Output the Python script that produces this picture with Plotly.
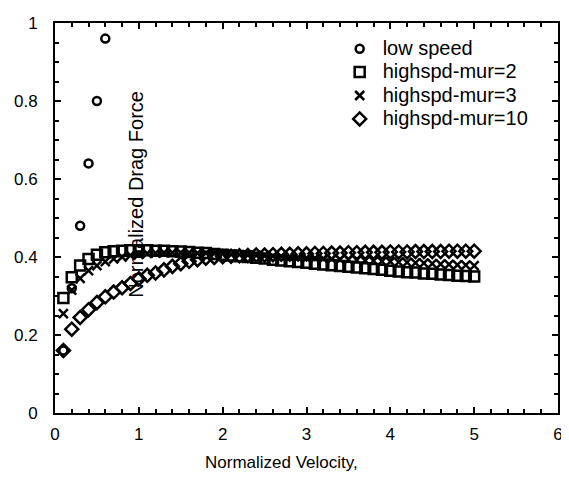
import plotly.graph_objects as go

# ---- data ----
low_x = [0.1, 0.2, 0.3, 0.4, 0.5, 0.6]
low_y = [0.16, 0.32, 0.48, 0.64, 0.80, 0.96]

hs_x = [round(0.1 * i, 1) for i in range(1, 51)]

mur2_y = [0.295, 0.348, 0.378, 0.395, 0.406, 0.412, 0.415, 0.416, 0.417, 0.417,
          0.417, 0.416, 0.416, 0.415, 0.414, 0.413, 0.411, 0.410, 0.408, 0.406,
          0.404, 0.402, 0.400, 0.398, 0.396, 0.393, 0.391, 0.389, 0.387, 0.385,
          0.383, 0.381, 0.379, 0.377, 0.375, 0.373, 0.371, 0.369, 0.367, 0.365,
          0.363, 0.361, 0.360, 0.358, 0.357, 0.355, 0.354, 0.352, 0.351, 0.350]

mur3_y = [0.255, 0.315, 0.345, 0.365, 0.378, 0.388, 0.395, 0.400, 0.404, 0.407,
          0.409, 0.410, 0.411, 0.411, 0.411, 0.411, 0.410, 0.410, 0.409, 0.408,
          0.407, 0.406, 0.405, 0.404, 0.403, 0.402, 0.401, 0.400, 0.399, 0.398,
          0.397, 0.396, 0.395, 0.394, 0.393, 0.392, 0.391, 0.390, 0.389, 0.388,
          0.387, 0.386, 0.385, 0.384, 0.383, 0.382, 0.381, 0.380, 0.379, 0.378]

mur10_y = [0.160, 0.215, 0.245, 0.265, 0.283, 0.298, 0.310, 0.321, 0.332, 0.344,
           0.353, 0.359, 0.367, 0.376, 0.383, 0.389, 0.393, 0.397, 0.399, 0.401,
           0.402, 0.403, 0.404, 0.405, 0.405, 0.406, 0.407, 0.407, 0.408, 0.408,
           0.409, 0.409, 0.410, 0.410, 0.411, 0.411, 0.412, 0.412, 0.412, 0.413,
           0.413, 0.413, 0.414, 0.414, 0.414, 0.414, 0.415, 0.415, 0.415, 0.415]

series_names = ["low speed", "highspd-mur=2", "highspd-mur=3", "highspd-mur=10"]

x_ticks = [0, 1, 2, 3, 4, 5, 6]
y_ticks = [0, 0.2, 0.4, 0.6, 0.8, 1]
y_tick_labels = ["0", "0.2", "0.4", "0.6", "0.8", "1"]

FONT = "Arial, Liberation Sans, sans-serif"
LW = 2.5


def leg(name):
    return '<span style="font-size:20px">' + name + "</span>"


fig = go.Figure()
fig.add_trace(go.Scatter(x=low_x, y=low_y, mode="markers", name=leg(series_names[0]),
                         marker=dict(symbol="circle-open", size=8, color="black",
                                     line=dict(width=LW, color="black"))))
fig.add_trace(go.Scatter(x=hs_x, y=mur2_y, mode="markers", name=leg(series_names[1]),
                         marker=dict(symbol="square-open", size=10, color="black",
                                     line=dict(width=LW, color="black"))))
fig.add_trace(go.Scatter(x=hs_x, y=mur3_y, mode="markers", name=leg(series_names[2]),
                         marker=dict(symbol="x-thin-open", size=9, color="black",
                                     line=dict(width=LW, color="black"))))
fig.add_trace(go.Scatter(x=hs_x, y=mur10_y, mode="markers", name=leg(series_names[3]),
                         marker=dict(symbol="diamond-open", size=10, color="black",
                                     line=dict(width=LW, color="black"))))

axis_common = dict(showline=True, linecolor="black", linewidth=2, mirror="ticks",
                   ticks="inside", ticklen=6, tickwidth=2, tickcolor="black",
                   showgrid=False, zeroline=False, ticklabeloverflow="allow",
                   tickfont=dict(family=FONT, size=17, color="black"))

fig.update_xaxes(range=[0, 6], tickvals=x_ticks,
                 minor=dict(dtick=0.2, ticks="inside", ticklen=4, tickwidth=2,
                            tickcolor="black", showgrid=False),
                 ticklabelstandoff=5,
                 **axis_common)
fig.update_yaxes(range=[0, 1], tickvals=y_ticks, ticktext=y_tick_labels,
                 minor=dict(dtick=0.05, ticks="inside", ticklen=4, tickwidth=2,
                            tickcolor="black", showgrid=False),
                 ticklabelstandoff=12,
                 **axis_common)

fig.add_annotation(text="Normalized Velocity,", xref="paper", yref="paper",
                   x=0.450, y=-0.126, xanchor="center", yanchor="middle",
                   showarrow=False, font=dict(family=FONT, size=17, color="black"))
fig.add_annotation(text="Normalized Drag Force", xref="paper", yref="paper",
                   x=0.161, y=0.562, xanchor="center", yanchor="middle",
                   textangle=-90, showarrow=False,
                   font=dict(family=FONT, size=20, color="black"))

# the page adds an 8px body margin, so the figure is 8px smaller than the window
fig.update_layout(
    width=561, height=471,
    margin=dict(l=42, r=6, t=8, b=66),
    plot_bgcolor="white", paper_bgcolor="white",
    font=dict(family=FONT, size=17, color="black"),
    legend=dict(x=0.560, y=0.977, xanchor="left", yanchor="top",
                bgcolor="rgba(0,0,0,0)", font=dict(family=FONT, size=15.7),
                itemsizing="trace", itemwidth=36),
    showlegend=True,
)

fig.write_html("out.html")
